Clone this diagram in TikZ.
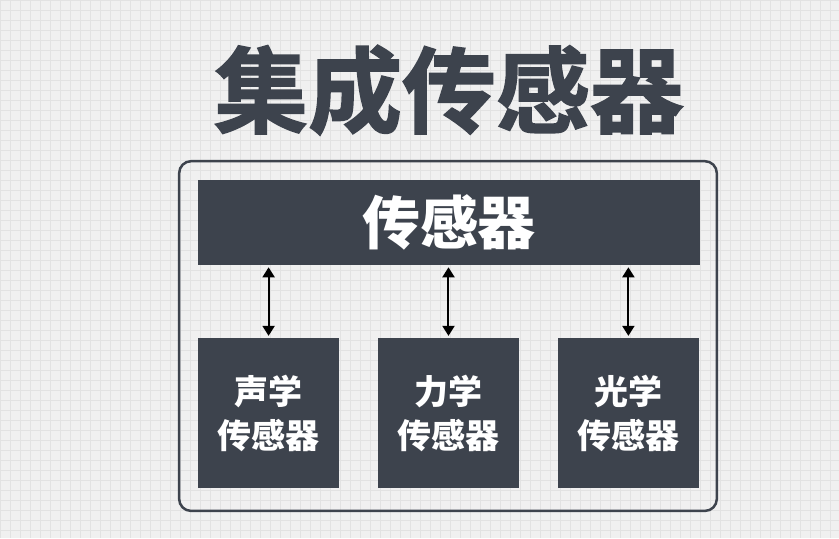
\documentclass[tikz,border=0pt]{standalone}
\usepackage{fontspec}
\usetikzlibrary{arrows.meta}
\newfontfamily\cjk{Noto Sans CJK SC}
\newfontfamily\cjkheavy[FakeBold=1.6]{Noto Sans CJK SC Bold}
\definecolor{slate}{HTML}{3D434D}
\definecolor{paper}{HTML}{F0F0F0}
\definecolor{gridline}{HTML}{E2E2E2}
\begin{document}
\begin{tikzpicture}[
  x=1pt, y=-1pt,
  block/.style={fill=slate, inner sep=0pt, text=white, font=\cjk\bfseries\fontsize{34}{44}\selectfont,
                align=center},
  link/.style={<->, line width=2pt, >={Triangle[length=10pt,width=12pt]}, shorten >=2pt, shorten <=2pt}
]
% paper background
\fill[paper] (0,0) rectangle (839,538);
\foreach \gx in {0,10,...,830}
  \draw[gridline, line width=0.5pt] (\gx,0) -- (\gx,538);
\foreach \gy in {0,10,...,530}
  \draw[gridline, line width=0.5pt] (0,\gy) -- (839,\gy);
\useasboundingbox (0,0) rectangle (839,538);

\node[font=\cjkheavy\fontsize{94}{100}\selectfont, text=slate] (title) at (449,90) {集成传感器};

\draw[slate, line width=2.5pt, rounded corners=12pt] (179,161) rectangle (717,511);

\node[block, minimum width=502, minimum height=85, font=\cjk\bfseries\fontsize{58}{60}\selectfont] (hub) at (449,222.5) {传感器};

\node[block, minimum width=141, minimum height=150] (sound) at (268.5,413) {声学\\传感器};
\node[block, minimum width=141, minimum height=150] (force) at (448.5,413) {力学\\传感器};
\node[block, minimum width=141, minimum height=150] (light) at (628.5,413) {光学\\传感器};

\foreach \s in {sound, force, light}
  \draw[link] (hub.south -| \s.north) -- (\s.north);
\end{tikzpicture}
\end{document}
